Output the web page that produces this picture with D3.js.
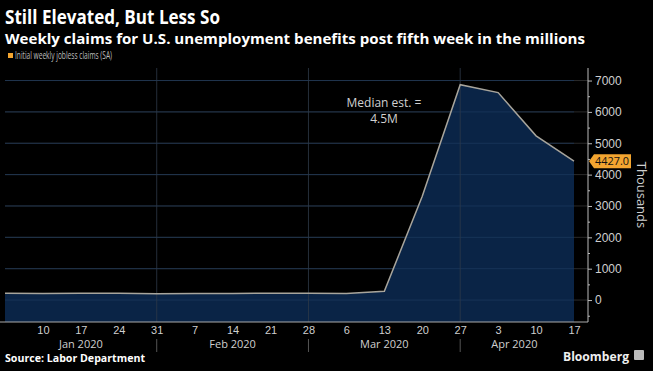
<html>
    <head>
        <title>Still Elevated, But Less So</title>
        <meta charset="utf8">
        <style>
            body { margin: 0; background: #000; }
            svg { display: block; background: #000; font-family: "Open Sans", sans-serif; }
            .grid line { stroke: #2a2a2a; stroke-width: 1; }
            .yaxis path, .yaxis line { stroke: #bbb; }
            .yaxis text, .xaxis text { fill: #cfcfcf; font-size: 11px; }
        </style>
    </head>
    <body>
        <svg width="653" height="371"></svg>

        <script src="https://d3js.org/d3.v7.min.js"></script>
        <script>
            // weekly initial jobless claims, thousands (SA)
            var weeks = ["2020-01-03", "2020-01-10", "2020-01-17", "2020-01-24", "2020-01-31",
                         "2020-02-07", "2020-02-14", "2020-02-21", "2020-02-28", "2020-03-06",
                         "2020-03-13", "2020-03-20", "2020-03-27", "2020-04-03", "2020-04-10",
                         "2020-04-17"];
            var claims = [214, 207, 220, 215, 203, 205, 211, 220, 217, 211,
                          282, 3307, 6867, 6615, 5237, 4427];

            var yTicks = [0, 1000, 2000, 3000, 4000, 5000, 6000, 7000];
            var xTicks = ["2020-01-10", "2020-01-17", "2020-01-24", "2020-01-31", "2020-02-07",
                          "2020-02-14", "2020-02-21", "2020-02-28", "2020-03-06", "2020-03-13",
                          "2020-03-20", "2020-03-27", "2020-04-03", "2020-04-10", "2020-04-17"];
            var monthSeparators = ["2020-01-31", "2020-02-28", "2020-03-27"];
            var monthLabels = [
                {label: "Jan 2020", at: "2020-01-17"},
                {label: "Feb 2020", at: "2020-02-14"},
                {label: "Mar 2020", at: "2020-03-13"},
                {label: "Apr 2020", at: "2020-04-06"}
            ];
        </script>

        <script>
        (function() {
            var svg = d3.select("svg");
            var parse = d3.timeParse("%Y-%m-%d");

            var data = weeks.map(function(w, i) { return {date: parse(w), value: claims[i]}; });

            var plotLeft = 5, plotRight = 588, plotTop = 68, plotBottom = 322;

            var x = d3.scaleTime()
                .domain([parse("2020-01-03"), parse("2020-04-17")])
                .range([plotLeft, 574]);
            var y = d3.scaleLinear()
                .domain([-700, 7400])
                .range([plotBottom, plotTop]);

            // horizontal grid
            svg.append("g").attr("class", "grid")
                .selectAll("line").data(yTicks).enter().append("line")
                .attr("x1", plotLeft).attr("x2", plotRight)
                .attr("y1", function(d) { return y(d); })
                .attr("y2", function(d) { return y(d); });

            // area + line
            var area = d3.area()
                .x(function(d) { return x(d.date); })
                .y0(plotBottom)
                .y1(function(d) { return y(d.value); });
            var line = d3.line()
                .x(function(d) { return x(d.date); })
                .y(function(d) { return y(d.value); });

            svg.append("path").datum(data)
                .attr("d", area)
                .attr("fill", "#0a2446");

            // grid over the fill is faint
            svg.append("g")
                .selectAll("line").data(yTicks).enter().append("line")
                .attr("x1", plotLeft).attr("x2", x(parse("2020-04-17")))
                .attr("y1", function(d) { return y(d); })
                .attr("y2", function(d) { return y(d); })
                .attr("stroke", "#1d3a60").attr("stroke-opacity", 0.7);

            // month separators
            svg.append("g")
                .selectAll("line").data(monthSeparators).enter().append("line")
                .attr("x1", function(d) { return x(parse(d)); })
                .attr("x2", function(d) { return x(parse(d)); })
                .attr("y1", plotTop).attr("y2", plotBottom)
                .attr("stroke", "#2e3a48").attr("stroke-opacity", 0.8);
            svg.append("g")
                .selectAll("line").data(monthSeparators).enter().append("line")
                .attr("x1", function(d) { return x(parse(d)); })
                .attr("x2", function(d) { return x(parse(d)); })
                .attr("y1", 339).attr("y2", 352)
                .attr("stroke", "#555");

            svg.append("path").datum(data)
                .attr("d", line)
                .attr("fill", "none")
                .attr("stroke", "#a8a59c")
                .attr("stroke-width", 1.5);

            // bottom line of plot
            svg.append("line")
                .attr("x1", 0).attr("x2", plotRight)
                .attr("y1", plotBottom).attr("y2", plotBottom)
                .attr("stroke", "#aaa");

            // right axis
            var yAxis = svg.append("g").attr("class", "yaxis")
                .attr("transform", "translate(" + plotRight + ",0)")
                .call(d3.axisRight(y).tickValues(yTicks).tickSize(4).tickSizeOuter(0).tickPadding(3)
                    .tickFormat(d3.format("d")));
            yAxis.select(".domain").attr("d", "M0," + plotTop + "V" + plotBottom);
            yAxis.selectAll("text").style("font-size", "12px");

            svg.append("g").attr("class", "yaxis")
                .attr("transform", "translate(" + plotRight + ",0)")
                .call(d3.axisRight(y).tickValues(d3.range(-500, 7500, 1000)).tickSize(2).tickFormat(""))
                .select(".domain").remove();

            // x axis labels
            var xAxis = svg.append("g").attr("class", "xaxis")
                .attr("transform", "translate(0," + plotBottom + ")")
                .call(d3.axisBottom(x).tickValues(xTicks.map(parse)).tickSize(0).tickPadding(4)
                    .tickFormat(d3.timeFormat("%-d")));
            xAxis.select(".domain").remove();

            svg.append("g").attr("class", "xaxis")
                .selectAll("text").data(monthLabels).enter().append("text")
                .attr("x", function(d) { return x(parse(d.at)); })
                .attr("y", 348)
                .attr("text-anchor", "middle")
                .text(function(d) { return d.label; });

            // last value tag
            var last = data[data.length - 1];
            var ly = y(last.value);
            svg.append("path")
                .attr("d", "M589," + ly + "L594," + (ly - 7) + "H631V" + (ly + 7) + "H594Z")
                .attr("fill", "#f3a530");
            svg.append("text")
                .attr("x", 595).attr("y", ly + 4)
                .attr("fill", "#111")
                .style("font-size", "11px")
                .attr("textLength", 34).attr("lengthAdjust", "spacingAndGlyphs")
                .text(last.value.toFixed(1));

            svg.append("text")
                .attr("transform", "translate(637,195) rotate(90)")
                .attr("text-anchor", "middle")
                .attr("fill", "#cfcfcf")
                .style("font-size", "13px")
                .text("Thousands");

            // annotation
            var ann = svg.append("text")
                .attr("text-anchor", "middle")
                .attr("fill", "#d0d0d0")
                .style("font-size", "12px");
            ann.append("tspan").attr("x", 384).attr("y", 107).text("Median est. =");
            ann.append("tspan").attr("x", 384).attr("y", 123).text("4.5M");

            // titles
            svg.append("text")
                .attr("x", 5).attr("y", 24)
                .attr("fill", "#fff")
                .style("font-size", "20px").style("font-weight", "bold")
                .attr("textLength", 215).attr("lengthAdjust", "spacingAndGlyphs")
                .text("Still Elevated, But Less So");
            svg.append("text")
                .attr("x", 5).attr("y", 44)
                .attr("fill", "#fff")
                .style("font-size", "15px").style("font-weight", "bold")
                .attr("textLength", 580).attr("lengthAdjust", "spacingAndGlyphs")
                .text("Weekly claims for U.S. unemployment benefits post fifth week in the millions");

            svg.append("rect")
                .attr("x", 8).attr("y", 53).attr("width", 5).attr("height", 5)
                .attr("fill", "#f3a530");
            svg.append("text")
                .attr("x", 15).attr("y", 59)
                .attr("fill", "#bdbdbd")
                .style("font-size", "11px")
                .attr("textLength", 97).attr("lengthAdjust", "spacingAndGlyphs")
                .text("Initial weekly jobless claims (SA)");

            svg.append("text")
                .attr("x", 5).attr("y", 362)
                .attr("fill", "#fff")
                .style("font-size", "10px").style("font-weight", "bold")
                .attr("textLength", 140).attr("lengthAdjust", "spacingAndGlyphs")
                .text("Source: Labor Department");

            svg.append("text")
                .attr("x", 563).attr("y", 361)
                .attr("fill", "#eee")
                .style("font-size", "13px").style("font-weight", "bold")
                .attr("textLength", 66).attr("lengthAdjust", "spacingAndGlyphs")
                .text("Bloomberg");
            svg.append("rect")
                .attr("x", 634).attr("y", 350).attr("width", 10).attr("height", 10)
                .attr("rx", 1).attr("fill", "#bbb");
        })();
        </script>
    </body>
</html>
